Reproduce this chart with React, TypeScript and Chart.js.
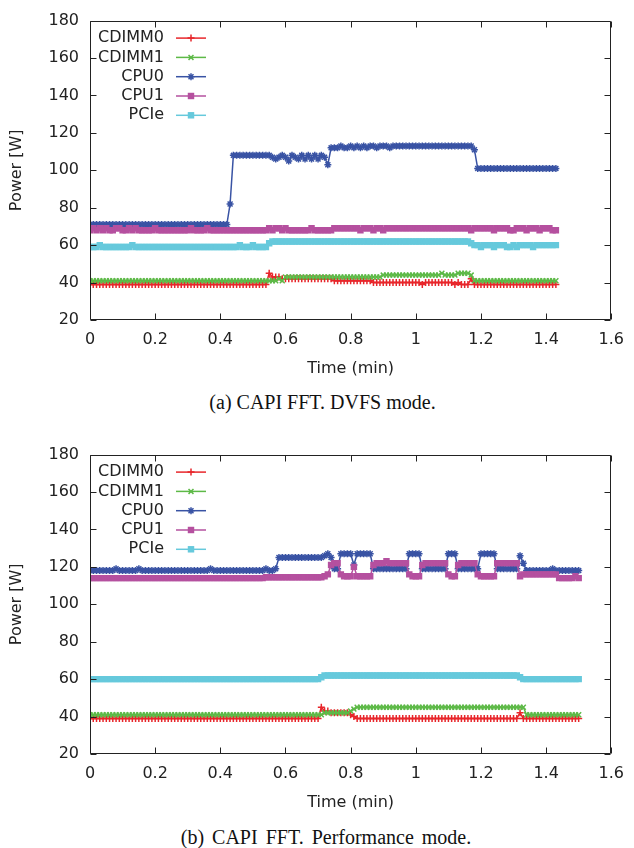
import React, { useEffect, useRef } from 'react';
import { Chart, registerables } from 'chart.js';

Chart.register(...registerables);

// ---------- categories / style keys ----------
const SERIES = ['CDIMM0', 'CDIMM1', 'CPU0', 'CPU1', 'PCIe'];
const COLORS = ['#e8262b', '#5db947', '#3953a4', '#b5509f', '#66c9dc'];
const MARKERS = ['cross', 'crossRot', 'star', 'rect', 'rect'];

const SAMPLE_STEP_MIN = 0.01; // one sample every 0.01 min
const X_TICKS = [0, 0.2, 0.4, 0.6, 0.8, 1, 1.2, 1.4, 1.6];
const Y_TICKS = [20, 40, 60, 80, 100, 120, 140, 160, 180];

const CAPTION_A = '(a) CAPI FFT. DVFS mode.';
const CAPTION_B = '(b) CAPI FFT. Performance mode.';

// ---------- (a) DVFS mode, power in W ----------
const A_CDIMM0 = [
  39, 39, 39, 39, 39, 39, 39, 39, 39, 39,
  39, 39, 39, 39, 39, 39, 39, 39, 39, 39,
  39, 39, 39, 39, 39, 39, 39, 39, 39, 39,
  39, 39, 39, 39, 39, 39, 39, 39, 39, 39,
  39, 39, 39, 39, 39, 39, 39, 39, 39, 39,
  39, 39, 39, 39, 39, 45, 43, 43, 43, 42,
  42, 42, 42, 42, 42, 42, 42, 42, 42, 42,
  42, 42, 42, 42, 42, 41, 41, 41, 41, 41,
  41, 41, 41, 41, 41, 41, 41, 40, 40, 40,
  40, 40, 40, 40, 40, 40, 40, 40, 40, 40,
  40, 40, 39, 40, 40, 40, 40, 40, 40, 40,
  40, 40, 39, 40, 39, 39, 39, 42, 39, 39,
  39, 39, 39, 39, 39, 39, 39, 39, 39, 39,
  39, 39, 39, 39, 39, 39, 39, 39, 39, 39,
  39, 39, 39, 39,
];
const A_CDIMM1 = [
  41, 41, 41, 41, 41, 41, 41, 41, 41, 41,
  41, 41, 41, 41, 41, 41, 41, 41, 41, 41,
  41, 41, 41, 41, 41, 41, 41, 41, 41, 41,
  41, 41, 41, 41, 41, 41, 41, 41, 41, 41,
  41, 41, 41, 41, 41, 41, 41, 41, 41, 41,
  41, 41, 41, 41, 41, 41, 41, 41, 42, 41,
  43, 43, 43, 43, 43, 43, 43, 43, 43, 43,
  43, 43, 43, 43, 43, 43, 43, 43, 43, 43,
  43, 43, 43, 43, 43, 43, 43, 43, 43, 43,
  44, 44, 44, 44, 44, 44, 44, 44, 44, 44,
  44, 44, 44, 44, 44, 44, 44, 44, 45, 44,
  44, 44, 44, 45, 45, 45, 45, 44, 41, 41,
  41, 41, 41, 41, 41, 41, 41, 41, 41, 41,
  41, 41, 41, 41, 41, 41, 41, 41, 41, 41,
  41, 41, 41, 41,
];
const A_CPU0 = [
  71, 71, 71, 71, 71, 71, 71, 71, 71, 71,
  71, 71, 71, 71, 71, 71, 71, 71, 71, 71,
  71, 71, 71, 71, 71, 71, 71, 71, 71, 71,
  71, 71, 71, 71, 71, 71, 71, 71, 71, 71,
  71, 71, 71, 82, 108, 108, 108, 108, 108, 108,
  108, 108, 108, 108, 108, 108, 107, 106, 107, 108,
  107, 105, 108, 107, 106, 108, 106, 108, 106, 108,
  106, 108, 107, 103, 112, 112, 112, 113, 112, 112,
  113, 112, 113, 112, 113, 112, 113, 113, 112, 113,
  113, 113, 112, 113, 113, 113, 113, 113, 113, 113,
  113, 113, 113, 113, 113, 113, 113, 113, 113, 113,
  113, 113, 113, 113, 113, 113, 113, 113, 111, 101,
  101, 101, 101, 101, 101, 101, 101, 101, 101, 101,
  101, 101, 101, 101, 101, 101, 101, 101, 101, 101,
  101, 101, 101, 101,
];
const A_CPU1 = [
  68, 69, 68, 69, 68, 69, 68, 68, 69, 69,
  68, 68, 69, 68, 69, 68, 68, 68, 68, 68,
  69, 68, 68, 68, 68, 68, 68, 68, 68, 68,
  68, 69, 68, 68, 68, 68, 69, 68, 68, 68,
  68, 68, 68, 68, 68, 68, 68, 68, 68, 68,
  68, 68, 68, 68, 68, 69, 68, 69, 69, 68,
  69, 68, 68, 68, 68, 68, 68, 68, 69, 68,
  68, 68, 68, 68, 68, 69, 69, 69, 69, 69,
  69, 69, 69, 68, 69, 69, 69, 68, 69, 69,
  68, 69, 69, 69, 69, 69, 69, 69, 69, 69,
  69, 69, 69, 69, 69, 69, 69, 69, 69, 69,
  69, 69, 69, 69, 69, 69, 69, 68, 69, 69,
  69, 69, 69, 69, 68, 69, 69, 69, 69, 68,
  68, 69, 69, 69, 68, 69, 69, 69, 68, 69,
  69, 69, 68, 68,
];
const A_PCIE = [
  59, 59, 59, 60, 59, 59, 59, 59, 59, 59,
  59, 59, 59, 60, 59, 59, 59, 59, 59, 59,
  59, 59, 59, 59, 59, 59, 59, 59, 59, 59,
  59, 59, 59, 59, 59, 59, 59, 59, 59, 59,
  59, 59, 59, 59, 59, 59, 60, 59, 59, 59,
  60, 59, 59, 59, 59, 61, 62, 62, 62, 62,
  62, 62, 62, 62, 62, 62, 62, 62, 62, 62,
  62, 62, 62, 62, 62, 62, 62, 62, 62, 62,
  62, 62, 62, 62, 62, 62, 62, 62, 62, 62,
  62, 62, 62, 62, 62, 62, 62, 62, 62, 62,
  62, 62, 62, 62, 62, 62, 62, 62, 62, 62,
  62, 62, 62, 62, 62, 62, 62, 61, 60, 60,
  59, 60, 60, 60, 59, 60, 60, 60, 59, 59,
  60, 59, 60, 60, 60, 60, 59, 60, 60, 60,
  60, 60, 60, 60,
];

// ---------- (b) Performance mode, power in W ----------
const B_CDIMM0 = [
  39, 39, 39, 39, 39, 39, 39, 39, 39, 39,
  39, 39, 39, 39, 39, 39, 39, 39, 39, 39,
  39, 39, 39, 39, 39, 39, 39, 39, 39, 39,
  39, 39, 39, 39, 39, 39, 39, 39, 39, 39,
  39, 39, 39, 39, 39, 39, 39, 39, 39, 39,
  39, 39, 39, 39, 39, 39, 39, 39, 39, 39,
  39, 39, 39, 39, 39, 39, 39, 39, 39, 39,
  39, 45, 43, 43, 42, 42, 42, 42, 42, 42,
  41, 40, 39, 39, 39, 39, 39, 39, 39, 39,
  39, 39, 39, 39, 39, 39, 39, 39, 39, 39,
  39, 39, 39, 39, 39, 39, 39, 39, 39, 39,
  39, 39, 39, 39, 39, 39, 39, 39, 39, 39,
  39, 39, 39, 39, 39, 39, 39, 39, 39, 39,
  39, 39, 42, 39, 39, 39, 39, 39, 39, 39,
  39, 39, 39, 39, 39, 39, 39, 39, 39, 39,
  39,
];
const B_CDIMM1 = [
  41, 41, 41, 41, 41, 41, 41, 41, 41, 41,
  41, 41, 41, 41, 41, 41, 41, 41, 41, 41,
  41, 41, 41, 41, 41, 41, 41, 41, 41, 41,
  41, 41, 41, 41, 41, 41, 41, 41, 41, 41,
  41, 41, 41, 41, 41, 41, 41, 41, 41, 41,
  41, 41, 41, 41, 41, 41, 41, 41, 41, 41,
  41, 41, 41, 41, 41, 41, 41, 41, 41, 41,
  41, 41, 42, 42, 42, 42, 42, 42, 42, 42,
  43, 44, 45, 45, 45, 45, 45, 45, 45, 45,
  45, 45, 45, 45, 45, 45, 45, 45, 45, 45,
  45, 45, 45, 45, 45, 45, 45, 45, 45, 45,
  45, 45, 45, 45, 45, 45, 45, 45, 45, 45,
  45, 45, 45, 45, 45, 45, 45, 45, 45, 45,
  45, 45, 45, 45, 41, 41, 41, 41, 41, 41,
  41, 41, 41, 41, 41, 41, 41, 41, 41, 41,
  41,
];
const B_CPU0 = [
  118, 118, 118, 118, 118, 118, 118, 118, 119, 118,
  118, 118, 118, 118, 118, 119, 118, 118, 118, 118,
  118, 118, 118, 118, 118, 118, 118, 118, 118, 118,
  118, 118, 118, 118, 118, 118, 118, 119, 118, 118,
  118, 118, 118, 118, 118, 118, 118, 118, 118, 118,
  118, 118, 118, 118, 119, 118, 118, 119, 125, 125,
  125, 125, 125, 125, 125, 125, 125, 125, 125, 125,
  125, 125, 126, 127, 125, 119, 119, 127, 127, 127,
  127, 121, 127, 127, 127, 127, 127, 119, 119, 119,
  119, 119, 119, 119, 119, 119, 119, 119, 127, 127,
  127, 127, 119, 119, 119, 119, 119, 119, 119, 119,
  127, 127, 127, 119, 119, 119, 119, 119, 119, 119,
  127, 127, 127, 127, 127, 119, 119, 119, 119, 119,
  119, 119, 126, 122, 118, 118, 118, 118, 118, 118,
  118, 118, 119, 118, 118, 118, 118, 118, 118, 118,
  118,
];
const B_CPU1 = [
  114, 114, 114, 114, 114, 114, 114, 114, 114, 114,
  114, 114, 114, 114, 114, 114, 114, 114, 114, 114,
  114, 114, 114, 114, 114, 114, 114, 114, 114, 114,
  114, 114, 114, 114, 114, 114, 114, 114, 114, 114,
  114, 114, 114, 114, 114, 114, 114, 114, 114, 114,
  114, 114, 114, 114, 114.5, 114.5, 114.5, 114.5, 114.5, 114.5,
  114.5, 114.5, 114.5, 114.5, 114.5, 114.5, 114.5, 114.5, 114.5, 114.5,
  114.5, 114.5, 115, 116, 121, 122, 122, 116, 115, 115,
  115, 120, 115, 115, 115, 115, 115, 121, 122, 122,
  122, 123, 122, 122, 122, 122, 122, 122, 116, 115,
  115, 115, 121, 122, 122, 122, 122, 122, 122, 122,
  116, 115, 115, 121, 122, 122, 122, 122, 122, 116,
  115, 115, 115, 115, 115, 122, 122, 122, 122, 122,
  122, 122, 115, 116, 116, 116, 116, 116, 116, 116,
  116, 116, 116, 116, 114, 114, 114, 114, 114, 115,
  114,
];
const B_PCIE = [
  60, 60, 60, 60, 60, 60, 60, 60, 60, 60,
  60, 60, 60, 60, 60, 60, 60, 60, 60, 60,
  60, 60, 60, 60, 60, 60, 60, 60, 60, 60,
  60, 60, 60, 60, 60, 60, 60, 60, 60, 60,
  60, 60, 60, 60, 60, 60, 60, 60, 60, 60,
  60, 60, 60, 60, 60, 60, 60, 60, 60, 60,
  60, 60, 60, 60, 60, 60, 60, 60, 60, 60,
  60, 61, 62, 62, 62, 62, 62, 62, 62, 62,
  62, 62, 62, 62, 62, 62, 62, 62, 62, 62,
  62, 62, 62, 62, 62, 62, 62, 62, 62, 62,
  62, 62, 62, 62, 62, 62, 62, 62, 62, 62,
  62, 62, 62, 62, 62, 62, 62, 62, 62, 62,
  62, 62, 62, 62, 62, 62, 62, 62, 62, 62,
  62, 62, 61, 60, 60, 60, 60, 60, 60, 60,
  60, 60, 60, 60, 60, 60, 60, 60, 60, 60,
  60,
];

const SERIES_A = [A_CDIMM0, A_CDIMM1, A_CPU0, A_CPU1, A_PCIE];
const SERIES_B = [B_CDIMM0, B_CDIMM1, B_CPU0, B_CPU1, B_PCIE];

// ---------- layout constants ----------
const W = 634;
const CANVAS_H = 378;
const FONT = 'DejaVu Sans';
const INK = '#222222';

function fmtTick(v: number) {
  return String(parseFloat(Number(v).toFixed(2)));
}

function drawMarker(ctx: CanvasRenderingContext2D, style: string, x: number, y: number, r: number) {
  ctx.beginPath();
  if (style === 'rect') {
    const s = r * Math.SQRT1_2;
    ctx.fillRect(x - s, y - s, 2 * s, 2 * s);
    ctx.strokeRect(x - s, y - s, 2 * s, 2 * s);
    return;
  }
  const d = r * Math.SQRT1_2;
  if (style === 'cross' || style === 'star') {
    ctx.moveTo(x - r, y); ctx.lineTo(x + r, y);
    ctx.moveTo(x, y - r); ctx.lineTo(x, y + r);
  }
  if (style === 'crossRot' || style === 'star') {
    ctx.moveTo(x - d, y - d); ctx.lineTo(x + d, y + d);
    ctx.moveTo(x - d, y + d); ctx.lineTo(x + d, y - d);
  }
  ctx.stroke();
}

const gnuplotFrame = {
  id: 'gnuplotFrame',
  afterDatasetsDraw(chart: any) {
    const { ctx, chartArea, scales } = chart;
    const { left, right, top, bottom } = chartArea;
    const xs = scales.x;
    const ys = scales.y;
    ctx.save();
    ctx.strokeStyle = INK;
    ctx.lineWidth = 1;
    const L = Math.round(left) + 0.5;
    const R = Math.round(right) - 0.5;
    const T = Math.round(top) + 0.5;
    const B = Math.round(bottom) - 0.5;
    ctx.beginPath();
    ctx.rect(L, T, R - L, B - T);
    const tick = 6;
    for (const v of X_TICKS) {
      const px = Math.round(xs.getPixelForValue(v)) + 0.5;
      ctx.moveTo(px, B); ctx.lineTo(px, B - tick);
      ctx.moveTo(px, T); ctx.lineTo(px, T + tick);
    }
    for (const v of Y_TICKS) {
      const py = Math.round(ys.getPixelForValue(v)) + 0.5;
      ctx.moveTo(L, py); ctx.lineTo(L + tick, py);
      ctx.moveTo(R, py); ctx.lineTo(R - tick, py);
    }
    ctx.stroke();

    // gnuplot-style key: right-aligned labels, sample line with marker
    ctx.font = `16px "${FONT}"`;
    ctx.textAlign = 'right';
    ctx.textBaseline = 'middle';
    chart.data.datasets.forEach((ds: any, k: number) => {
      const y = top + 17.5 + k * 19.3;
      ctx.fillStyle = INK;
      ctx.fillText(ds.label, left + 74, y);
      ctx.strokeStyle = ds.borderColor;
      ctx.fillStyle = ds.borderColor;
      ctx.lineWidth = 1.5;
      ctx.beginPath();
      ctx.moveTo(left + 86, y);
      ctx.lineTo(left + 116, y);
      ctx.stroke();
      ctx.lineWidth = 1.5;
      drawMarker(ctx, MARKERS[k], left + 101, y, 3.5);
    });
    ctx.restore();
  },
};

function PowerPanel({ series, top }: { series: number[][]; top: number }) {
  const ref = useRef<HTMLCanvasElement | null>(null);
  useEffect(() => {
    const canvas = ref.current;
    if (!canvas) return;
    const chart = new Chart(canvas, {
      type: 'line',
      data: {
        datasets: SERIES.map((name, k) => ({
          label: name,
          data: series[k].map((v, i) => ({ x: Math.round(i * SAMPLE_STEP_MIN * 100) / 100, y: v })),
          borderColor: COLORS[k],
          backgroundColor: COLORS[k],
          borderWidth: 1.5,
          pointStyle: MARKERS[k] as any,
          pointRadius: 3.5,
          pointBorderWidth: 1.5,
          pointBackgroundColor: COLORS[k],
          pointBorderColor: COLORS[k],
          tension: 0,
          order: SERIES.length - k,
        })),
      },
      options: {
        responsive: false,
        animation: false,
        devicePixelRatio: 1,
        layout: { padding: { left: 0, top: 17, right: 17, bottom: 0 } },
        plugins: {
          legend: { display: false },
          tooltip: { enabled: false },
        },
        scales: {
          x: {
            type: 'linear',
            min: 0,
            max: 1.6,
            grid: { display: false, drawTicks: false },
            border: { display: false },
            ticks: {
              stepSize: 0.2,
              autoSkip: false,
              maxRotation: 0,
              padding: 10,
              color: INK,
              font: { family: FONT, size: 16 },
              callback: (v: any) => fmtTick(v),
            },
            title: {
              display: true,
              text: 'Time (min)',
              color: INK,
              font: { family: FONT, size: 16 },
              padding: { top: 0, bottom: 0 },
            },
            afterFit: (s: any) => { s.height = 58; },
          },
          y: {
            type: 'linear',
            min: 20,
            max: 180,
            grid: { display: false, drawTicks: false },
            border: { display: false },
            ticks: {
              stepSize: 20,
              padding: 11,
              color: INK,
              font: { family: FONT, size: 16 },
              callback: (v: any) => fmtTick(v),
            },
            title: {
              display: true,
              text: 'Power [W]',
              color: INK,
              font: { family: FONT, size: 16 },
              padding: { top: 7, bottom: 0 },
            },
            afterFit: (s: any) => { s.width = 90; },
          },
        },
      },
      plugins: [gnuplotFrame],
    });
    return () => chart.destroy();
  }, [series]);
  return (
    <canvas
      ref={ref}
      width={W}
      height={CANVAS_H}
      style={{ position: 'absolute', left: 0, top, width: W, height: CANVAS_H }}
    />
  );
}

const captionStyle: React.CSSProperties = {
  position: 'absolute',
  left: 0,
  width: 645,
  textAlign: 'center',
  fontFamily: '"Liberation Serif", "Times New Roman", serif',
  fontSize: 20,
  lineHeight: '20px',
  color: '#111',
  whiteSpace: 'nowrap',
};

export default function App() {
  return (
    <div style={{ position: 'absolute', left: 0, top: 0, width: W, height: 848 }}>
      <PowerPanel series={SERIES_A} top={0} />
      <div style={{ ...captionStyle, top: 392 }}>{CAPTION_A}</div>
      <PowerPanel series={SERIES_B} top={434} />
      <div style={{ ...captionStyle, top: 827, width: 652, wordSpacing: 3 }}>{CAPTION_B}</div>
    </div>
  );
}
